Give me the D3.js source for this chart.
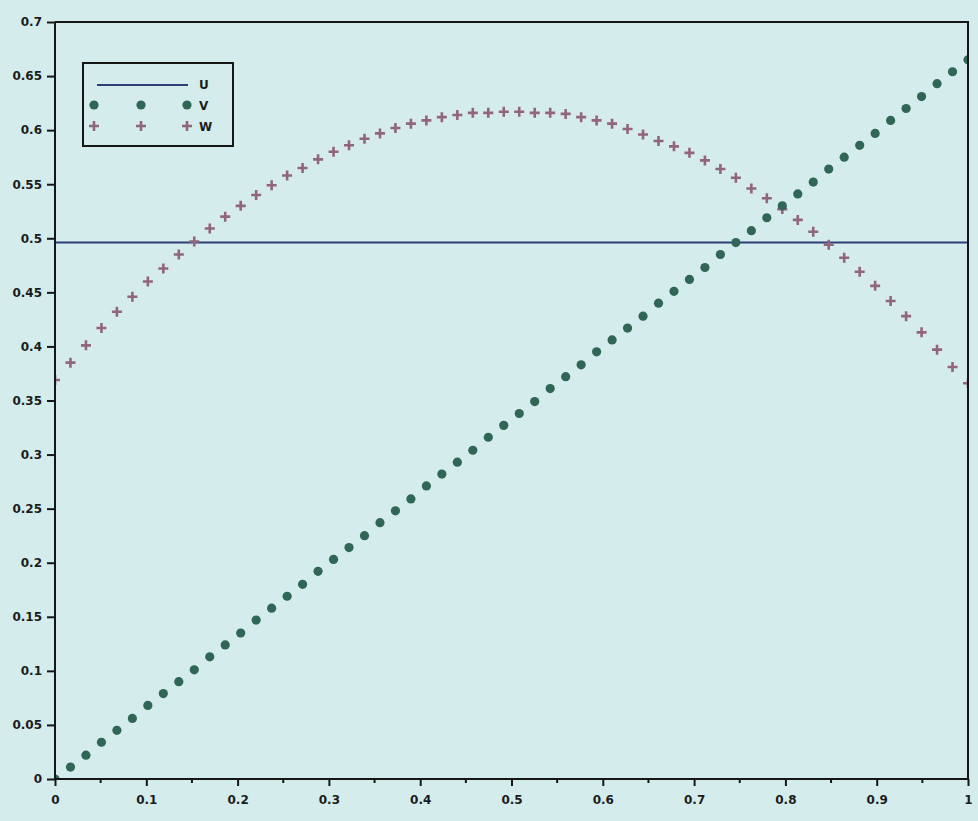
<!DOCTYPE html>
<html>
<head>
<meta charset="utf-8">
<script src="https://cdn.jsdelivr.net/npm/d3@7"></script>
<style>
  body { margin: 0; background: #d5ecec; }
  svg { display: block; }
  .axis text { font-family: "DejaVu Sans", sans-serif; font-size: 12px; font-weight: bold; fill: #1c1c1c; }
  .axis path, .axis line { stroke: #161616; stroke-width: 2; }
</style>
</head>
<body>
<div id="chart"></div>
<script>
// samples: linspace(0,1,60)
var xSteps = 59;
var seriesNames = ["U", "V", "W"];

var uValues = [
  0.496, 0.496, 0.496, 0.496, 0.496, 0.496, 0.496, 0.496, 0.496, 0.496,
  0.496, 0.496, 0.496, 0.496, 0.496, 0.496, 0.496, 0.496, 0.496, 0.496,
  0.496, 0.496, 0.496, 0.496, 0.496, 0.496, 0.496, 0.496, 0.496, 0.496,
  0.496, 0.496, 0.496, 0.496, 0.496, 0.496, 0.496, 0.496, 0.496, 0.496,
  0.496, 0.496, 0.496, 0.496, 0.496, 0.496, 0.496, 0.496, 0.496, 0.496,
  0.496, 0.496, 0.496, 0.496, 0.496, 0.496, 0.496, 0.496, 0.496, 0.496
];

var vValues = [
  0.000, 0.011, 0.022, 0.034, 0.045, 0.056, 0.068, 0.079, 0.090, 0.101,
  0.113, 0.124, 0.135, 0.147, 0.158, 0.169, 0.180, 0.192, 0.203, 0.214,
  0.225, 0.237, 0.248, 0.259, 0.271, 0.282, 0.293, 0.304, 0.316, 0.327,
  0.338, 0.349, 0.361, 0.372, 0.383, 0.395, 0.406, 0.417, 0.428, 0.440,
  0.451, 0.462, 0.473, 0.485, 0.496, 0.507, 0.519, 0.530, 0.541, 0.552,
  0.564, 0.575, 0.586, 0.597, 0.609, 0.620, 0.631, 0.643, 0.654, 0.665
];

var wValues = [
  0.369, 0.385, 0.401, 0.417, 0.432, 0.446, 0.460, 0.472, 0.485, 0.497,
  0.509, 0.520, 0.530, 0.540, 0.549, 0.558, 0.565, 0.573, 0.580, 0.586,
  0.592, 0.597, 0.602, 0.606, 0.609, 0.612, 0.614, 0.616, 0.616, 0.617,
  0.617, 0.616, 0.616, 0.615, 0.612, 0.609, 0.606, 0.601, 0.596, 0.590,
  0.585, 0.579, 0.572, 0.564, 0.556, 0.546, 0.537, 0.527, 0.517, 0.506,
  0.494, 0.482, 0.469, 0.456, 0.442, 0.428, 0.413, 0.397, 0.381, 0.366
];

var xTicks = [0, 0.1, 0.2, 0.3, 0.4, 0.5, 0.6, 0.7, 0.8, 0.9, 1];
var xTickLabels = ["0", "0.1", "0.2", "0.3", "0.4", "0.5", "0.6", "0.7", "0.8", "0.9", "1"];
var yTicks = [0, 0.05, 0.1, 0.15, 0.2, 0.25, 0.3, 0.35, 0.4, 0.45, 0.5, 0.55, 0.6, 0.65, 0.7];
var yTickLabels = ["0", "0.05", "0.1", "0.15", "0.2", "0.25", "0.3", "0.35", "0.4", "0.45", "0.5", "0.55", "0.6", "0.65", "0.7"];
var xMinorTicks = [0.05, 0.15, 0.25, 0.35, 0.45, 0.55, 0.65, 0.75, 0.85, 0.95];

var colors = { U: "#2d3f78", V: "#2f6656", W: "#93657a" };

var W = 978, H = 821;
var box = { left: 55, right: 968, top: 22, bottom: 779 };

var svg = d3.select("#chart").append("svg")
    .attr("width", W).attr("height", H);

svg.append("rect").attr("width", W).attr("height", H).attr("fill", "#d5ecec");

var x = d3.scaleLinear().domain([0, 1]).range([box.left, box.right]);
var y = d3.scaleLinear().domain([0, 0.7]).range([box.bottom, box.top]);

function xs(i) { return x(i / xSteps); }

svg.append("clipPath").attr("id", "plotclip")
  .append("rect")
    .attr("x", box.left).attr("y", box.top)
    .attr("width", box.right - box.left).attr("height", box.bottom - box.top);

var plot = svg.append("g").attr("clip-path", "url(#plotclip)");

// U: solid line
var line = d3.line().x(function(d, i) { return xs(i); }).y(function(d) { return y(d); });
plot.append("path").datum(uValues)
    .attr("d", line)
    .attr("fill", "none")
    .attr("stroke", colors.U)
    .attr("stroke-width", 2);

// W: crosses
plot.selectAll(".w").data(wValues).enter().append("path")
    .attr("class", "w")
    .attr("transform", function(d, i) { return "translate(" + xs(i) + "," + y(d) + ")"; })
    .attr("d", "M-5,0H5M0,-5V5")
    .attr("stroke", colors.W)
    .attr("stroke-width", 2.6);

// V: filled dots
plot.selectAll(".v").data(vValues).enter().append("circle")
    .attr("class", "v")
    .attr("cx", function(d, i) { return xs(i); })
    .attr("cy", function(d) { return y(d); })
    .attr("r", 4.6)
    .attr("fill", colors.V);

// frame
svg.append("path")
    .attr("d", "M" + box.left + "," + box.top + "H" + box.right + "V" + box.bottom)
    .attr("fill", "none").attr("stroke", "#161616").attr("stroke-width", 2);

// axes
var xAxis = d3.axisBottom(x).tickValues(xTicks).tickSize(7).tickPadding(9)
    .tickFormat(function(d, i) { return xTickLabels[i]; });
var yAxis = d3.axisLeft(y).tickValues(yTicks).tickSize(8).tickPadding(5)
    .tickFormat(function(d, i) { return yTickLabels[i]; });

svg.append("g").attr("class", "x axis")
    .attr("transform", "translate(0," + box.bottom + ")").call(xAxis);
svg.append("g").attr("class", "y axis")
    .attr("transform", "translate(" + box.left + ",0)").call(yAxis);
svg.selectAll(".axis .domain").attr("d", function() {
    return d3.select(this.parentNode).classed("x")
        ? "M" + box.left + ",0H" + box.right
        : "M0," + box.top + "V" + box.bottom;
});

svg.append("g").selectAll("line").data(xMinorTicks).enter().append("line")
    .attr("x1", function(d) { return x(d); }).attr("x2", function(d) { return x(d); })
    .attr("y1", box.bottom).attr("y2", box.bottom + 4)
    .attr("stroke", "#161616").attr("stroke-width", 2);

// legend
var legend = svg.append("g").attr("transform", "translate(83,63)");
legend.append("rect").attr("width", 150).attr("height", 83)
    .attr("fill", "none").attr("stroke", "#161616").attr("stroke-width", 2);
var markX = [11, 58, 104];
legend.append("line").attr("x1", 14).attr("x2", 105).attr("y1", 22).attr("y2", 22)
    .attr("stroke", colors.U).attr("stroke-width", 2);
legend.selectAll(".lv").data(markX).enter().append("circle")
    .attr("cx", function(d) { return d; }).attr("cy", 42).attr("r", 4.6)
    .attr("fill", colors.V);
legend.selectAll(".lw").data(markX).enter().append("path")
    .attr("transform", function(d) { return "translate(" + d + ",63)"; })
    .attr("d", "M-5,0H5M0,-5V5")
    .attr("stroke", colors.W).attr("stroke-width", 2.6);
legend.selectAll(".lt").data(seriesNames).enter().append("text")
    .attr("x", 116).attr("y", function(d, i) { return 22 + i * 21; })
    .attr("dy", "0.35em")
    .attr("font-family", "DejaVu Sans, sans-serif").attr("font-size", 12).attr("font-weight", "bold")
    .attr("fill", "#1c1c1c")
    .text(function(d) { return d; });
</script>
</body>
</html>
